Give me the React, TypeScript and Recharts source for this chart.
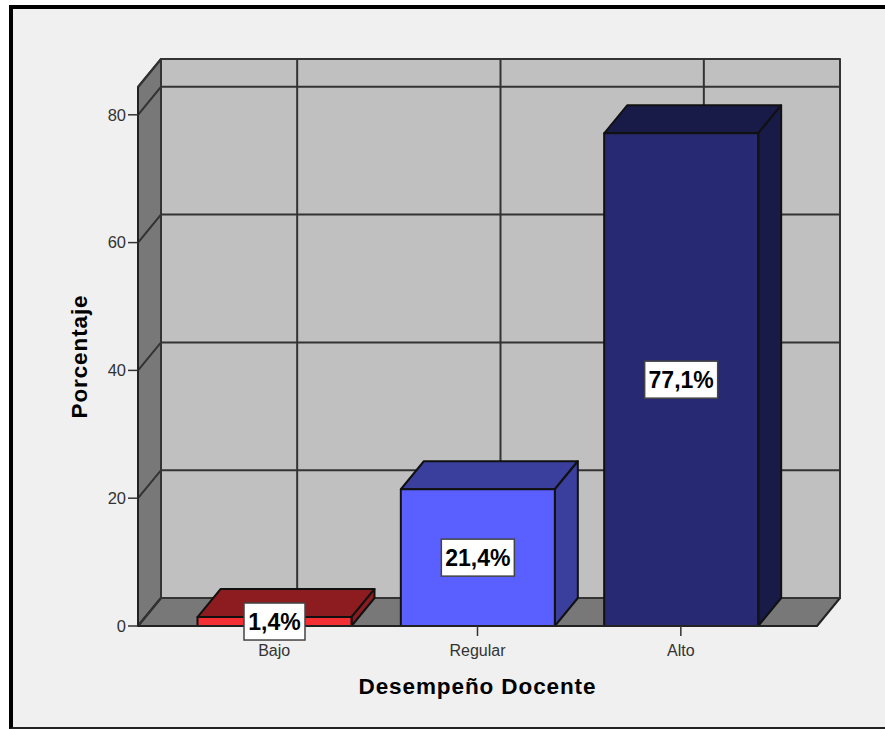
import { BarChart, Bar, XAxis, YAxis, CartesianGrid, ReferenceArea, LabelList } from 'recharts';

const categories = ['Bajo', 'Regular', 'Alto'];
const percentages = [1.4, 21.4, 77.1];
const yTicks = [0, 20, 40, 60, 80];
const yMax = 84.35;

const frontColors = ['#f53035', '#5a60ff', '#272a72'];
const topColors = ['#8c1c20', '#3a3f9e', '#181a48'];
const sideColors = ['#8c1c20', '#3a3f9e', '#181a48'];

const data = categories.map((name, i) => ({ name, value: percentages[i] }));

// how far the back wall sits from the front of the box
const DX = 23;
const DY = 28;
const X_PAD = 34.5;
const FONT = '"Liberation Sans", Arial, sans-serif';

const pts = (list: number[][]) => list.map((p) => p.join(',')).join(' ');

// the reference area only spans the padded x range, so widen it back out
const Walls = ({ x: rawX, y, width, height }: any) => {
  const x = rawX - X_PAD;
  const right = rawX + width + X_PAD;
  const bottom = y + height;
  return (
    <g stroke="#222" strokeWidth={2} strokeLinejoin="round">
      <polygon points={pts([[x + DX, y - DY], [right + DX, y - DY], [right + DX, bottom - DY], [x + DX, bottom - DY]])} fill="#c0c0c0" />
      <polygon points={pts([[x, y], [x + DX, y - DY], [x + DX, bottom - DY], [x, bottom]])} fill="#787878" />
      <polygon points={pts([[x, bottom], [x + DX, bottom - DY], [right + DX, bottom - DY], [right, bottom]])} fill="#787878" />
    </g>
  );
};

const HorizontalLine = ({ x1, x2, y1 }: any) => (
  <polyline
    points={pts([[x1, y1], [x1 + DX, y1 - DY], [x2 + DX, y1 - DY]])}
    fill="none"
    stroke="#333"
    strokeWidth={2}
  />
);

const VerticalLine = ({ x1, y1, y2 }: any) => (
  <line x1={x1 + DX} x2={x1 + DX} y1={Math.min(y1, y2) - DY} y2={Math.max(y1, y2) - DY} stroke="#333" strokeWidth={2} />
);

const Box3D = ({ x, y, width, height, index }: any) => {
  const right = x + width;
  const bottom = y + height;
  return (
    <g stroke="#111" strokeWidth={2} strokeLinejoin="round">
      <polygon points={pts([[x, y], [x + DX, y - DY], [right + DX, y - DY], [right, y]])} fill={topColors[index]} />
      <polygon points={pts([[right, y], [right + DX, y - DY], [right + DX, bottom - DY], [right, bottom]])} fill={sideColors[index]} />
      <rect x={x} y={y} width={width} height={height} fill={frontColors[index]} />
    </g>
  );
};

const ValueBox = ({ x, y, width, height, value }: any) => {
  const text = String(value).replace('.', ',') + '%';
  const boxW = text.length > 4 ? 73 : 61;
  const cx = x + width / 2;
  const cy = y + height / 2;
  return (
    <g>
      <rect x={cx - boxW / 2} y={cy - 18.5} width={boxW} height={37} fill="#fff" stroke="#444" strokeWidth={1.5} />
      <text x={cx} y={cy + 8.5} textAnchor="middle" fontFamily={FONT} fontWeight="bold" fontSize={23} fill="#000">
        {text}
      </text>
    </g>
  );
};

export default function App() {
  const axisLine = { stroke: '#222', strokeWidth: 2 };
  const tickLine = { stroke: '#333', strokeWidth: 1.5 };
  const titleStyle = { fontFamily: FONT, fontWeight: 'bold', fontSize: 22.5, letterSpacing: 0.9, fill: '#000' };
  return (
    <div style={{ position: 'absolute', left: 0, top: 0, width: 885, height: 729, background: '#fff' }}>
      <div
        style={{
          position: 'absolute',
          left: 9,
          top: 5,
          width: 876,
          height: 724,
          boxSizing: 'border-box',
          background: '#f0f0f0',
          borderLeft: '4px solid #000',
          borderTop: '4px solid #000',
          borderBottom: '2px solid #222',
        }}
      />
      <div style={{ position: 'absolute', left: 0, top: 0 }}>
        <BarChart
          width={885}
          height={729}
          data={data}
          margin={{ top: 87, right: 68, bottom: 53, left: 88 }}
          barSize={154}
        >
          <ReferenceArea y1={0} y2={yMax} shape={<Walls />} zIndex={-200} ifOverflow="visible" />
          <CartesianGrid horizontal={(p: any) => <HorizontalLine key={p.key} {...p} />} vertical={(p: any) => <VerticalLine key={p.key} {...p} />} />
          <XAxis
            dataKey="name"
            height={50}
            padding={{ left: X_PAD, right: X_PAD }}
            tickSize={10}
            tickMargin={9}
            axisLine={axisLine}
            tickLine={tickLine}
            tick={{ fontFamily: FONT, fontSize: 16, fill: '#333' }}
            label={{ value: 'Desempeño Docente', position: 'insideBottom', dy: 23, style: titleStyle }}
          />
          <YAxis
            width={50}
            domain={[0, yMax]}
            ticks={yTicks}
            tickSize={10}
            tickMargin={2}
            axisLine={axisLine}
            tickLine={tickLine}
            tick={{ fontFamily: FONT, fontSize: 16.5, fill: '#333' }}
            label={{
              value: 'Porcentaje',
              angle: -90,
              position: 'insideLeft',
              dx: -14,
              style: { ...titleStyle, textAnchor: 'middle' },
            }}
          />
          <Bar dataKey="value" shape={<Box3D />} isAnimationActive={false}>
            <LabelList dataKey="value" content={<ValueBox />} />
          </Bar>
        </BarChart>
      </div>
    </div>
  );
}
